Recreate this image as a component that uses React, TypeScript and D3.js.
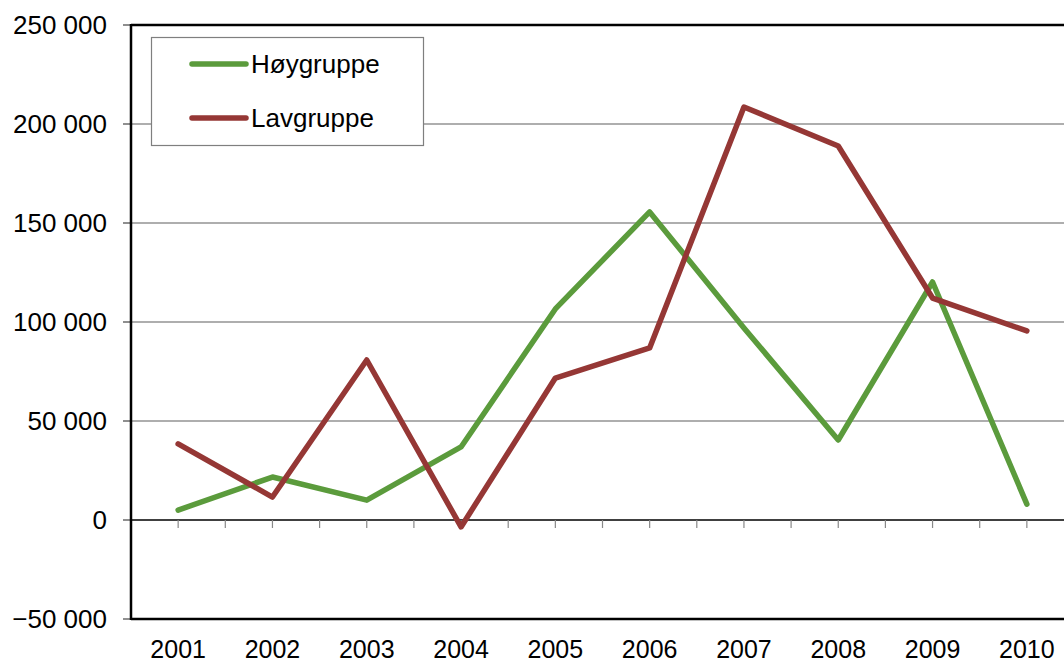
import React from "react";
import * as d3 from "d3";

const years = ["2001", "2002", "2003", "2004", "2005", "2006", "2007", "2008", "2009", "2010"];
const hoygruppe = [5000, 21700, 10000, 36900, 106600, 155600, 97000, 40400, 120200, 8000];
const lavgruppe = [38400, 11600, 80800, -3500, 71700, 86900, 208600, 188900, 112100, 95500];
const yTicks = [-50000, 0, 50000, 100000, 150000, 200000, 250000];
const seriesNames = ["Høygruppe", "Lavgruppe"];
const seriesColors = ["#5b9b3c", "#953735"];

const W = 1064;
const H = 661;
const left = 131;
const top = 25;
const bottom = 619;

export default function App() {
  const x = d3.scaleLinear().domain([-0.5, 9.5]).range([left, left + 943]);
  const y = d3.scaleLinear().domain([-50000, 250000]).range([bottom, top]);
  const fmt = d3.formatLocale({ decimal: ",", thousands: " ", grouping: [3], currency: ["", ""] }).format(",");
  const line = d3
    .line<number>()
    .x((_, i) => x(i))
    .y((d) => y(d));
  const series = [hoygruppe, lavgruppe];
  const halfTicks = d3.range(0, 19).map((k) => k * 0.5).filter((v) => x(v) < W);
  const font = "'Liberation Sans', Arial, sans-serif";

  return (
    <svg width={W} height={H} style={{ position: "absolute", left: 0, top: 0, background: "#fff" }} fontFamily={font}>
      <rect x={0} y={0} width={W} height={H} fill="#fff" />
      {/* gridlines */}
      {yTicks
        .filter((t) => t !== 0 && t !== -50000 && t !== 250000)
        .map((t) => (
          <line key={t} x1={left} x2={W} y1={y(t)} y2={y(t)} stroke="#5f5f5f" strokeWidth={1.2} />
        ))}
      {/* y ticks and labels */}
      {yTicks.map((t) => (
        <g key={"yt" + t}>
          <line x1={left - 8} x2={left} y1={y(t)} y2={y(t)} stroke="#444" strokeWidth={1.2} />
          <text x={107} y={y(t) + 9} textAnchor="end" fontSize={26} fill="#000">
            {fmt(t)}
          </text>
        </g>
      ))}
      {/* zero line and x ticks */}
      <line x1={left} x2={W} y1={y(0)} y2={y(0)} stroke="#000" strokeWidth={1.3} />
      {halfTicks.map((v) => (
        <line key={"xt" + v} x1={x(v)} x2={x(v)} y1={y(0)} y2={y(0) + 8} stroke="#888" strokeWidth={1.2} />
      ))}
      {/* frame */}
      <line x1={left} x2={W} y1={top} y2={top} stroke="#000" strokeWidth={2.5} />
      <line x1={left} x2={W} y1={bottom} y2={bottom} stroke="#000" strokeWidth={2.5} />
      <line x1={left} x2={left} y1={top - 1} y2={bottom + 1} stroke="#000" strokeWidth={2.5} />
      {/* x labels */}
      {years.map((yr, i) => (
        <text key={yr} x={x(i)} y={658} textAnchor="middle" fontSize={25} fill="#000">
          {yr}
        </text>
      ))}
      {/* series */}
      {series.map((s, k) => (
        <path
          key={seriesNames[k]}
          d={line(s) || ""}
          fill="none"
          stroke={seriesColors[k]}
          strokeWidth={5.5}
          strokeLinejoin="round"
          strokeLinecap="round"
        />
      ))}
      {/* legend */}
      <rect x={151.5} y={37.5} width={272} height={108} fill="#fff" stroke="#7f7f7f" strokeWidth={1.2} />
      {seriesNames.map((n, k) => (
        <g key={"lg" + n}>
          <line x1={192} x2={246} y1={64 + k * 54} y2={64 + k * 54} stroke={seriesColors[k]} strokeWidth={5.5} strokeLinecap="round" />
          <text x={251} y={73 + k * 54} fontSize={26} fill="#000">
            {n}
          </text>
        </g>
      ))}
    </svg>
  );
}
